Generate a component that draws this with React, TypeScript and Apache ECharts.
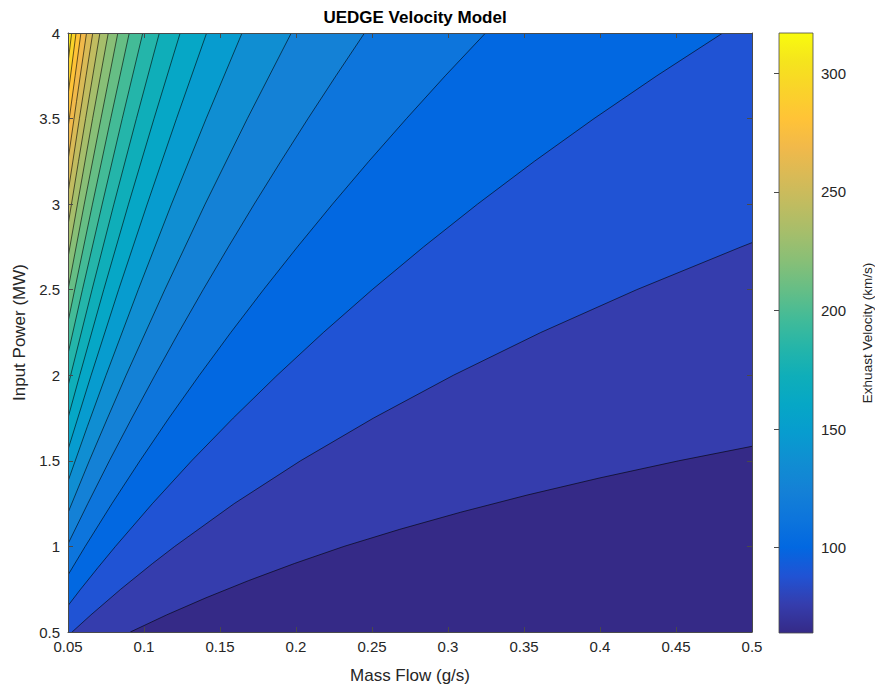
import React, { useEffect, useRef } from "react";
import * as echarts from "echarts";

// ---------- text ----------
const titleText = "UEDGE Velocity Model";
const xName = "Mass Flow (g/s)";
const yName = "Input Power (MW)";
const cbName = "Exhuast Velocity (km/s)";

// ---------- axes ----------
const xMin = 0.05;
const xMax = 0.5;
const xStep = 0.05;
const yMin = 0.5;
const yMax = 4;
const yStep = 0.5;
const cbTicks = [100, 150, 200, 250, 300];
const vMin = 64;
const vMax = 317;

// ---------- contour levels (km/s) ----------
const levels = [76, 88, 100, 112, 124, 136, 148, 160, 172, 184, 197, 209, 221, 233, 245, 257, 269, 281, 293, 305];

// ---------- contour lines: [mass flow g/s, power MW] ----------
const c076 = [[0.091, 0.5], [0.1149, 0.6], [0.1408, 0.7], [0.1687, 0.8], [0.1989, 0.9], [0.2315, 1], [0.2683, 1.1], [0.3084, 1.2], [0.352, 1.3], [0.3997, 1.4], [0.4516, 1.5], [0.5, 1.585]];
const c088 = [[0.0527, 0.5], [0.0651, 0.6], [0.0847, 0.75], [0.1056, 0.9], [0.1202, 1], [0.1593, 1.25], [0.2029, 1.5], [0.251, 1.75], [0.3035, 2], [0.361, 2.25], [0.4241, 2.5], [0.4928, 2.75], [0.5, 2.775]];
const c100 = [[0.05, 0.654], [0.0583, 0.75], [0.0696, 0.875], [0.0812, 1], [0.1055, 1.25], [0.1313, 1.5], [0.1587, 1.75], [0.1876, 2], [0.218, 2.25], [0.2501, 2.5], [0.2839, 2.75], [0.3194, 3], [0.3568, 3.25], [0.3961, 3.5], [0.4374, 3.75], [0.4808, 4]];
const c112 = [[0.05, 0.833], [0.0613, 1], [0.0789, 1.25], [0.0973, 1.5], [0.1164, 1.75], [0.1364, 2], [0.1571, 2.25], [0.1786, 2.5], [0.2009, 2.75], [0.224, 3], [0.2479, 3.25], [0.2727, 3.5], [0.2982, 3.75], [0.3247, 4]];
const c124 = [[0.05, 1.015], [0.063, 1.25], [0.0772, 1.5], [0.092, 1.75], [0.1072, 2], [0.1228, 2.25], [0.1389, 2.5], [0.1555, 2.75], [0.1725, 3], [0.19, 3.25], [0.2079, 3.5], [0.2263, 3.75], [0.2451, 4]];
const c136 = [[0.05, 1.197], [0.064, 1.5], [0.076, 1.75], [0.0882, 2], [0.1137, 2.5], [0.1402, 3], [0.168, 3.5], [0.1969, 4]];
const c148 = [[0.05, 1.381], [0.0627, 1.7], [0.075, 2], [0.0962, 2.5], [0.1181, 3], [0.1409, 3.5], [0.1645, 4]];
const c160 = [[0.05, 1.566], [0.0652, 2], [0.0833, 2.5], [0.1021, 3], [0.1214, 3.5], [0.1412, 4]];
const c172 = [[0.05, 1.751], [0.0577, 2], [0.0735, 2.5], [0.0898, 3], [0.1066, 3.5], [0.1238, 4]];
const c184 = [[0.05, 1.938], [0.0658, 2.5], [0.0802, 3], [0.095, 3.5], [0.1101, 4]];
const c197 = [[0.05, 2.125], [0.0595, 2.5], [0.0725, 3], [0.0857, 3.5], [0.0992, 4]];
const c209 = [[0.05, 2.312], [0.0544, 2.5], [0.0661, 3], [0.0781, 3.5], [0.0903, 4]];
const c221 = [[0.05, 2.5], [0.0607, 3], [0.0717, 3.5], [0.0828, 4]];
const c233 = [[0.05, 2.688], [0.0562, 3], [0.0662, 3.5], [0.0765, 4]];
const c245 = [[0.05, 2.877], [0.0569, 3.25], [0.0616, 3.5], [0.071, 4]];
const c257 = [[0.05, 3.066], [0.0575, 3.5], [0.0619, 3.75], [0.0663, 4]];
const c269 = [[0.05, 3.255], [0.0556, 3.6], [0.0622, 4]];
const c281 = [[0.05, 3.445], [0.0547, 3.75], [0.0585, 4]];
const c293 = [[0.05, 3.635], [0.0553, 4]];
const c305 = [[0.05, 3.825], [0.0524, 4]];

const contourLines = [c076, c088, c100, c112, c124, c136, c148, c160, c172, c184, c197, c209, c221, c233, c245, c257, c269, c281, c293, c305];

// ---------- parula colour map (style) ----------
const parula = [
  [53, 42, 135], [53, 61, 173], [32, 83, 212], [2, 104, 225], [13, 117, 220], [20, 129, 214],
  [16, 142, 210], [7, 156, 207], [6, 167, 198], [15, 174, 185], [37, 181, 169], [66, 187, 152],
  [101, 190, 134], [135, 191, 119], [165, 190, 107], [192, 188, 96], [217, 186, 86], [241, 185, 74],
  [255, 195, 55], [250, 211, 42], [245, 228, 29], [249, 251, 14],
];

function parulaAt(t: number): string {
  const tt = Math.max(0, Math.min(1, t)) * (parula.length - 1);
  const i = Math.min(parula.length - 2, Math.floor(tt));
  const f = tt - i;
  const a = parula[i];
  const b = parula[i + 1];
  const c = a.map((v, k) => Math.round(v + (b[k] - v) * f));
  return `rgb(${c[0]},${c[1]},${c[2]})`;
}

const FONT = "Liberation Sans";
const TXT = "#262626";
const AX = "#4a4a4a";

export default function App() {
  const ref = useRef<HTMLDivElement>(null);
  useEffect(() => {
    if (!ref.current) return;
    const chart = echarts.init(ref.current, undefined, { renderer: "svg" });

    const bandData = [{ value: [xMin, yMin, vMin] }, ...levels.map((l) => ({ value: [xMin, yMin, l] }))];

    const renderBand = (params: any, api: any) => {
      const i = params.dataIndex;
      if (i === 0) {
        const p1 = api.coord([xMin, yMax]);
        const p2 = api.coord([xMax, yMin]);
        return {
          type: "rect",
          shape: { x: p1[0], y: p1[1], width: p2[0] - p1[0], height: p2[1] - p1[1] },
          style: { fill: parulaAt(0) },
        };
      }
      const line = contourLines[i - 1];
      const level = levels[i - 1];
      const poly: number[][] = line.map((p) => p.slice());
      const start = line[0];
      const end = line[line.length - 1];
      if (end[0] >= xMax - 1e-9 && end[1] < yMax - 1e-9) poly.push([xMax, yMax]);
      poly.push([xMin, yMax]);
      if (start[1] <= yMin + 1e-9 && start[0] > xMin + 1e-9) poly.push([xMin, yMin]);
      const polyPx = poly.map((p) => api.coord(p));
      const linePx = line.map((p) => api.coord(p));
      return {
        type: "group",
        children: [
          {
            type: "polygon",
            shape: { points: polyPx },
            style: { fill: parulaAt((level - vMin) / (vMax - vMin)) },
          },
          {
            type: "polyline",
            shape: { points: linePx },
            style: { stroke: "rgba(0,0,0,0.85)", lineWidth: 0.7, fill: null },
          },
        ],
      };
    };

    const renderColorbar = (_params: any, api: any) => {
      const p1 = api.coord([0, vMax]);
      const p2 = api.coord([1, vMin]);
      return {
        type: "rect",
        shape: { x: p1[0], y: p1[1], width: p2[0] - p1[0], height: p2[1] - p1[1] },
        style: {
          fill: {
            type: "linear",
            x: 0,
            y: 1,
            x2: 0,
            y2: 0,
            colorStops: parula.map((c, k) => ({ offset: k / (parula.length - 1), color: `rgb(${c[0]},${c[1]},${c[2]})` })),
          },
          stroke: AX,
          lineWidth: 0.8,
        },
      };
    };

    const fmt = (v: number) => String(Math.round(v * 100) / 100);

    chart.setOption({
      animation: false,
      backgroundColor: "#ffffff",
      title: {
        text: titleText,
        left: 410,
        top: 4,
        textAlign: "center",
        textStyle: { fontFamily: FONT, fontSize: 17, fontWeight: "bold", color: "#000" },
      },
      grid: [
        { left: 68, top: 33, width: 684, height: 600 },
        { left: 779, top: 33, width: 35, height: 600 },
      ],
      xAxis: [
        {
          type: "value",
          gridIndex: 0,
          min: xMin,
          max: xMax,
          interval: xStep,
          position: "bottom",
          name: xName,
          nameLocation: "middle",
          nameGap: 35,
          nameTextStyle: { fontFamily: FONT, fontSize: 17, color: TXT },
          axisLine: { show: true, onZero: false, lineStyle: { color: AX, width: 1 } },
          axisTick: { show: true, inside: true, length: 5, lineStyle: { color: AX } },
          axisLabel: { fontFamily: FONT, fontSize: 15, color: TXT, margin: 7, formatter: fmt },
          splitLine: { show: false },
          z: 10,
        },
        {
          type: "value",
          gridIndex: 0,
          min: xMin,
          max: xMax,
          interval: xStep,
          position: "top",
          axisLine: { show: true, onZero: false, lineStyle: { color: AX, width: 1 } },
          axisTick: { show: true, inside: true, length: 5, lineStyle: { color: AX } },
          axisLabel: { show: false },
          splitLine: { show: false },
          z: 10,
        },
        { type: "value", gridIndex: 1, min: 0, max: 1, show: false },
      ],
      yAxis: [
        {
          type: "value",
          gridIndex: 0,
          min: yMin,
          max: yMax,
          interval: yStep,
          position: "left",
          name: yName,
          nameLocation: "middle",
          nameRotate: 90,
          nameGap: 37,
          nameTextStyle: { fontFamily: FONT, fontSize: 17, color: TXT },
          axisLine: { show: true, onZero: false, lineStyle: { color: AX, width: 1 } },
          axisTick: { show: true, inside: true, length: 5, lineStyle: { color: AX } },
          axisLabel: { fontFamily: FONT, fontSize: 15, color: TXT, margin: 8, formatter: fmt },
          splitLine: { show: false },
          z: 10,
        },
        {
          type: "value",
          gridIndex: 0,
          min: yMin,
          max: yMax,
          interval: yStep,
          position: "right",
          axisLine: { show: true, onZero: false, lineStyle: { color: AX, width: 1 } },
          axisTick: { show: true, inside: true, length: 5, lineStyle: { color: AX } },
          axisLabel: { show: false },
          splitLine: { show: false },
          z: 10,
        },
        {
          type: "value",
          gridIndex: 1,
          min: vMin,
          max: vMax,
          position: "right",
          name: cbName,
          nameLocation: "middle",
          nameRotate: 90,
          nameGap: 47,
          nameTextStyle: { fontFamily: FONT, fontSize: 13.5, color: TXT },
          axisLine: { show: false },
          axisTick: { show: true, inside: true, length: 5, lineStyle: { color: AX }, customValues: cbTicks },
          axisLabel: { fontFamily: FONT, fontSize: 15, color: TXT, margin: 8, customValues: cbTicks },
          splitLine: { show: false },
          z: 10,
        },
      ],
      series: [
        {
          type: "custom",
          xAxisIndex: 0,
          yAxisIndex: 0,
          clip: true,
          renderItem: renderBand,
          data: bandData,
          silent: true,
          z: 2,
        },
        {
          type: "custom",
          xAxisIndex: 2,
          yAxisIndex: 2,
          renderItem: renderColorbar,
          data: [[0, vMin]],
          silent: true,
          z: 2,
        },
      ],
    });
    return () => chart.dispose();
  }, []);

  return (
    <div
      ref={ref}
      style={{ position: "fixed", left: 0, top: 0, width: 875, height: 689, background: "#fff" }}
    />
  );
}
